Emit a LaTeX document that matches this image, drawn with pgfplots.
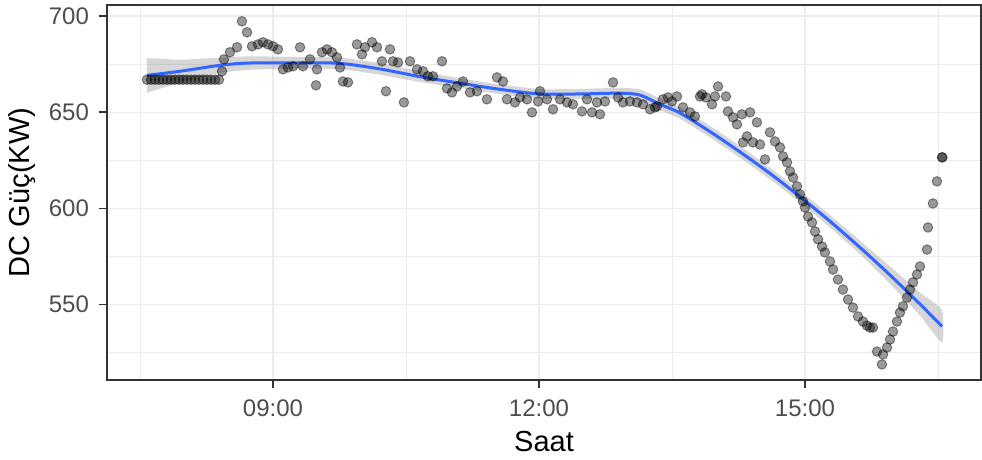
\documentclass[border=0pt]{standalone}
\usepackage{pgfplots}
\usepackage{pgfplotstable}
\pgfplotsset{compat=1.18}
\usepackage{fontspec}
\setmainfont{Liberation Sans}
\definecolor{gridc}{HTML}{EBEBEB}
\definecolor{tickc}{HTML}{4D4D4D}
\definecolor{borderc}{HTML}{333333}
\definecolor{smoothc}{HTML}{3366FF}
\definecolor{ribbonc}{HTML}{999999}

\pgfplotstableread{
h v
7.579 667
7.624 667
7.669 667
7.714 667
7.759 667
7.805 667
7.850 667
7.895 667
7.940 667
7.985 667
8.030 667
8.075 667
8.120 667
8.165 667
8.211 667
8.256 667
8.301 667
8.346 667
8.391 667
8.425 671.4
8.447 677.6
8.515 681.3
8.594 683.9
8.650 697.4
8.707 691.7
8.763 684.4
8.831 685.4
8.887 686.5
8.944 685.4
9.000 684.4
9.056 682.8
9.113 672.4
9.169 673.4
9.226 674.0
9.305 683.9
9.338 674.0
9.417 677.6
9.485 664.1
9.496 672.4
9.553 681.3
9.609 682.8
9.665 681.3
9.722 678.6
9.756 673.4
9.789 666.1
9.846 665.6
9.947 685.4
10.004 680.2
10.038 683.9
10.117 686.5
10.173 683.9
10.229 676.6
10.274 661.0
10.320 682.8
10.353 676.6
10.410 676.0
10.477 655.2
10.545 676.6
10.624 672.4
10.692 671.4
10.748 668.8
10.804 668.8
10.906 676.6
10.962 662.5
11.019 660.4
11.075 663.5
11.143 666.1
11.222 660.4
11.301 661.0
11.413 656.8
11.526 668.2
11.594 666.1
11.639 656.8
11.729 655.2
11.786 657.8
11.865 656.8
11.921 650.0
11.989 655.7
12.011 661.0
12.090 656.8
12.158 651.6
12.237 656.8
12.316 655.2
12.383 654.2
12.485 650.5
12.541 656.8
12.598 650.0
12.654 655.2
12.688 649.0
12.744 655.7
12.835 665.6
12.891 657.8
12.947 655.2
13.026 655.7
13.105 655.2
13.173 654.2
13.252 651.6
13.308 652.6
13.331 653.1
13.398 656.8
13.455 657.8
13.500 655.7
13.556 658.3
13.624 652.6
13.703 650.0
13.759 647.9
13.816 658.3
13.838 659.4
13.883 657.8
13.951 654.2
13.985 658.3
14.019 663.5
14.109 658.3
14.131 650.5
14.188 647.4
14.233 643.8
14.289 649.0
14.301 634.4
14.346 637.5
14.380 650.0
14.413 634.4
14.458 644.8
14.492 633.3
14.549 625.5
14.605 639.6
14.662 634.9
14.718 631.8
14.752 627.1
14.797 624.0
14.831 619.3
14.865 616.1
14.910 611.5
14.944 607.3
14.977 603.7
15.000 600.5
15.034 595.8
15.079 592.7
15.113 588.0
15.147 583.9
15.192 580.2
15.225 577.1
15.282 572.4
15.316 568.2
15.372 563.0
15.428 557.8
15.485 552.6
15.541 548.4
15.598 543.8
15.654 541.1
15.699 539.0
15.733 538.0
15.767 538.0
15.812 525.5
15.868 518.8
15.880 524.0
15.925 527.6
15.959 531.8
15.992 535.9
16.037 541.1
16.071 545.8
16.105 549.0
16.150 553.6
16.184 557.8
16.218 561.5
16.263 565.6
16.297 569.8
16.376 578.6
16.387 590.1
16.443 602.6
16.488 614.1
16.545 626.6
16.550 626.6
}\pointsdata

\pgfplotstableread{
h v
7.579 669.3
7.951 671.4
8.402 674.5
8.741 675.7
9.305 675.8
9.756 675.5
10.207 672.6
10.658 668.6
11.109 665.2
11.560 662.0
12.011 659.6
12.462 659.6
12.913 660.0
13.139 659.0
13.365 654.2
13.590 649.7
13.928 640.0
14.267 629.4
14.605 618.2
14.944 606.1
15.282 593.3
15.620 579.7
15.959 565.3
16.297 550.2
16.545 538.6
}\smoothdata

% confidence band: upper edge left to right, then lower edge right to left
\pgfplotstableread{
h v
7.579 678.3
7.951 677.4
8.402 678.5
8.741 679.2
9.305 678.8
9.756 678.5
10.207 675.6
10.658 671.4
11.109 667.7
11.560 664.5
12.011 662.1
12.462 662.2
12.913 662.8
13.139 662.0
13.365 657.2
13.590 652.7
13.928 643.0
14.267 632.4
14.605 621.2
14.944 609.1
15.282 596.5
15.620 583.2
15.959 569.8
16.297 556.2
16.545 547.1
16.545 530.1
16.297 544.2
15.959 560.8
15.620 576.2
15.282 590.1
14.944 603.1
14.605 615.2
14.267 626.4
13.928 637.0
13.590 646.7
13.365 651.2
13.139 656.0
12.913 657.2
12.462 657.0
12.011 657.1
11.560 659.5
11.109 662.7
10.658 665.8
10.207 669.6
9.756 672.5
9.305 672.8
8.741 672.2
8.402 670.5
7.951 665.4
7.579 660.3
}\ribbondata

\begin{document}
\begin{tikzpicture}
\useasboundingbox (-53.5pt,-40pt) rectangle (437.5pt,190pt);
\begin{axis}[
  at={(0pt,0pt)}, anchor=south west,
  scale only axis, width=437pt, height=187.5pt,
  xmin=7.128, xmax=16.985, ymin=510.7, ymax=705.9,
  axis line style={borderc, line width=0.9pt},
  xtick={9,12,15}, xticklabels={09:00,12:00,15:00},
  ytick={550,600,650,700},
  minor xtick={7.5,10.5,13.5,16.5},
  minor ytick={525,575,625,675},
  grid=both,
  major grid style={gridc, line width=0.85pt},
  minor grid style={gridc, line width=0.45pt},
  tick align=outside, xtick pos=bottom, ytick pos=left,
  major tick length=4pt, minor tick length=0pt,
  tick style={borderc, line width=0.9pt},
  /pgf/number format/assume math mode=true,
  /pgf/number format/set thousands separator={},
  ticklabel style={font=\fontsize{12}{14}\selectfont, text=tickc},
  yticklabel style={xshift=-1.5pt},
  xticklabel style={yshift=-2.5pt},
  xlabel={Saat}, ylabel={DC Güç(KW)},
  every axis x label/.style={at={(axis description cs:0.5,-0.165)}, anchor=center, font=\fontsize{14.5}{17}\selectfont, text=black},
  every axis y label/.style={at={(axis description cs:-0.0973,0.5)}, anchor=center, rotate=90, font=\fontsize{14.5}{17}\selectfont, text=black},
  clip=false,
]
\addplot[only marks, mark=*, mark size=2.4pt,
  mark options={fill=black, fill opacity=0.4, draw=black, draw opacity=0.4, line width=0.5pt}]
  table[x=h, y=v] {\pointsdata};
\addplot[fill=ribbonc, fill opacity=0.4, draw=none, smooth, tension=0.3] table[x=h, y=v] {\ribbondata};
\addplot[smoothc, line width=1.5pt, smooth, tension=0.5] table[x=h, y=v] {\smoothdata};
\end{axis}
\end{tikzpicture}
\end{document}
